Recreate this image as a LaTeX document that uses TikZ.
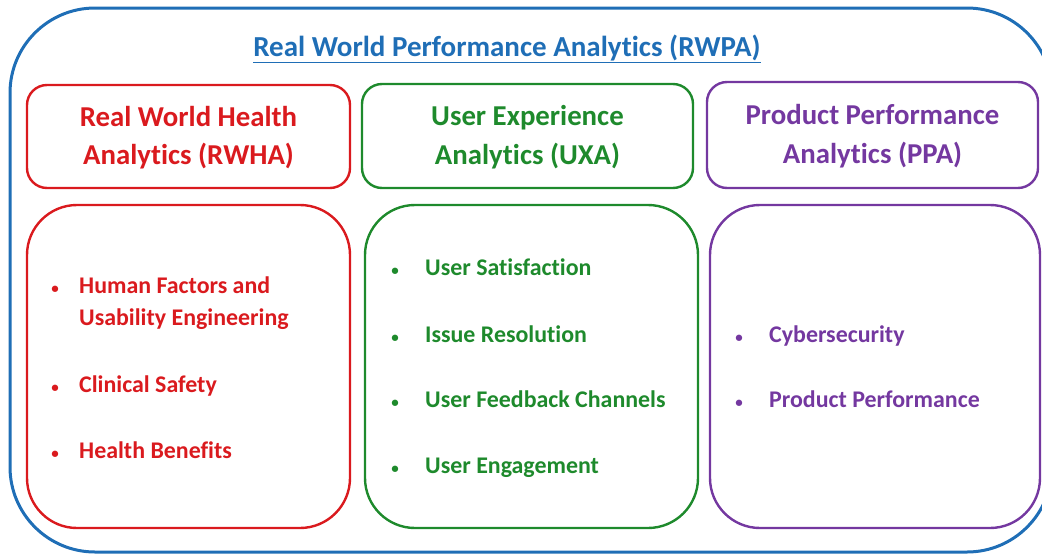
\documentclass[tikz,border=0pt]{standalone}
\usepackage{fontspec}
\setmainfont{Carlito}[Ligatures={NoCommon,NoRequired,NoContextual},Contextuals=NoAlternate]
\definecolor{rwblue}{HTML}{1F6EB6}
\definecolor{rwred}{HTML}{DA1A1E}
\definecolor{rwgreen}{HTML}{1E8A2C}
\definecolor{rwpurple}{HTML}{7438A0}
\tikzset{
  hdrbox/.style={draw=#1, text=#1, line width=2.4pt, rounded corners=20pt, align=center,
    font=\fontsize{28.8}{38.5}\selectfont\bfseries, inner sep=0pt, text depth=2pt},
  bodybox/.style={draw=#1, line width=2.4pt, rounded corners=50pt, inner sep=0pt},
  item/.style={text=#1, anchor=base west, inner sep=0pt, font=\fontsize{23.9}{32}\selectfont\bfseries},
}
\newcommand{\bul}[1]{\makebox[#1][l]{\makebox[0pt][c]{\fontsize{15}{15}\selectfont •}}}
\newcommand{\nl}{\kern0pt }
\begin{document}
\begin{tikzpicture}[x=1pt,y=-1pt]
\useasboundingbox (0,0) rectangle (1042,555);
% outer frame
\draw[rwblue, line width=3pt, rounded corners=85pt] (10,8) rectangle (1052,552);
\node[text=rwblue, font=\fontsize{29}{32}\selectfont\bfseries, anchor=base, inner sep=0pt] (title) at (507,56) {\underline{Real World Performance Analyt\nl ics (RWPA)}};
% headers
\node[hdrbox=rwred, minimum width=323pt, minimum height=103pt] (rwha) at (188.5,136.5) {Real World Health\\Analyt\nl ics (RWHA)};
\node[hdrbox=rwgreen, minimum width=331pt, minimum height=104pt] (uxa) at (527.5,136) {User Experience\\Analyt\nl ics (UXA)};
\node[hdrbox=rwpurple, minimum width=331pt, minimum height=106pt] (ppa) at (872.5,135) {Product Performance\\Analyt\nl ics (PPA)};
% bodies
\node[bodybox=rwred, minimum width=323pt, minimum height=323pt] (rwhab) at (188.5,366.5) {};
\node[bodybox=rwgreen, minimum width=333pt, minimum height=323pt] (uxab) at (531.5,366.5) {};
\node[bodybox=rwpurple, minimum width=330pt, minimum height=323pt] (ppab) at (875,366.5) {};
% red items
\node[item=rwred] (r1) at (55,293) {\bul{24pt}\parbox[t]{260pt}{\raggedright Human Factors and\\Usability Engineering}};
\node[item=rwred] (r2) at (55,392) {\bul{24pt}Clinical Safety};
\node[item=rwred] (r3) at (55,458) {\bul{24pt}Health Benefits};
% green items
\node[item=rwgreen] (g1) at (395,275) {\bul{30pt}User Satisfact\nl ion};
\node[item=rwgreen] (g2) at (395,342) {\bul{30pt}Issue Resolut\nl ion};
\node[item=rwgreen] (g3) at (395,407) {\bul{30pt}User Feedback Channels};
\node[item=rwgreen] (g4) at (395,473) {\bul{30pt}User Engagement};
% purple items
\node[item=rwpurple] (p1) at (739,342) {\bul{30pt}Cybersecurity};
\node[item=rwpurple] (p2) at (739,407) {\bul{30pt}Product Performance};
\end{tikzpicture}
\end{document}
